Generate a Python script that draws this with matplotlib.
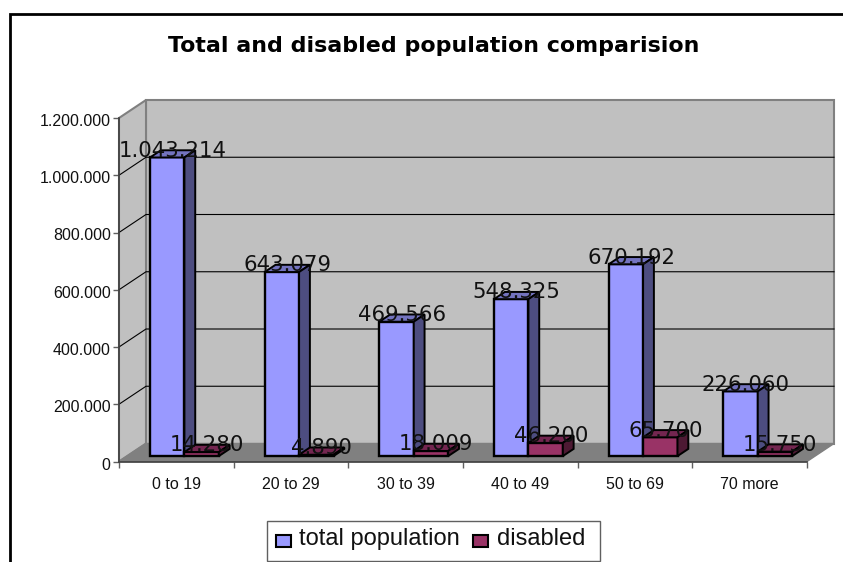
import matplotlib
matplotlib.use('Agg')
import matplotlib.pyplot as plt
from matplotlib.patches import Polygon, Rectangle
from matplotlib.transforms import ScaledTranslation

plt.rcParams['font.family'] = ['Liberation Sans', 'DejaVu Sans']

# population by age group
categories = ['0 to 19', '20 to 29', '30 to 39', '40 to 49', '50 to 69', '70 more']
total_population = [1043214, 643079, 469566, 548325, 670192, 226060]
disabled = [14280, 4890, 18009, 46200, 65700, 15750]
y_ticks = [0, 200000, 400000, 600000, 800000, 1000000, 1200000]

W, H = 843, 562
fig = plt.figure(figsize=(W / 100, H / 100), dpi=100)

# outer frame, runs off the right and bottom of the canvas
bg = fig.add_axes([0, 0, 1, 1])
bg.set_xlim(0, W)
bg.set_ylim(H, 0)
bg.axis('off')
bg.plot([9.7, 9.7, W], [H, 13.5, 13.5], color='black', lw=2.0, solid_capstyle='butt',
        solid_joinstyle='miter')

# axes sit on the front plane of the 3d box
ax = fig.add_axes([119 / W, 1 - 461.5 / H, 688 / W, 343.5 / H])
ax.set_xlim(0, 6)
ax.set_ylim(0, 1200000)
ax.patch.set_visible(False)
for s in ax.spines.values():
    s.set_visible(False)

# depth of the box, in data units
DX = 27 / 688 * 6
DY = 18 / 343.5 * 1200000


def p(x, y, d):
    return (x + d * DX, y + d * DY)


def poly(pts, fc, ec='black', lw=1.0, z=1):
    ax.add_patch(Polygon(pts, closed=True, facecolor=fc, edgecolor=ec, lw=lw,
                         zorder=z, clip_on=False, joinstyle='miter'))


top = y_ticks[-1]
wall = '#c0c0c0'
edge = '#808080'
poly([p(0, 0, 1), p(6, 0, 1), p(6, top, 1), p(0, top, 1)], wall, edge, 1.5)
poly([p(0, 0, 0), p(0, 0, 1), p(0, top, 1), p(0, top, 0)], wall, edge, 1.5)
poly([p(0, 0, 0), p(6, 0, 0), p(6, 0, 1), p(0, 0, 1)], '#808080', '#808080', 1.0)

# gridlines on the side and back walls
for v in y_ticks[1:-1]:
    xs, ys = zip(p(0, v, 0), p(0, v, 1), p(6, v, 1))
    ax.plot(xs, ys, color='black', lw=0.8, zorder=1.5, clip_on=False)

# left and bottom axis lines
ax.plot([0, 0], [0, top], color='#404040', lw=1.2, zorder=2, clip_on=False)
ax.plot([0, 6], [0, 0], color='#404040', lw=1.2, zorder=2, clip_on=False)

BAR_W = 0.3
D0, D1 = 0.3, 0.7
base = D0 * DY


def bar3d(left, value, front, top_col, side, z):
    l, r = left, left + BAR_W
    ax.bar(l + D0 * DX, value, width=BAR_W, bottom=base, align='edge', color=front,
           edgecolor='black', lw=1.7, zorder=z, clip_on=False)
    poly([p(l, value, D0), p(r, value, D0), p(r, value, D1), p(l, value, D1)], top_col, 'black', 1.4, z)
    poly([p(r, 0, D0), p(r, 0, D1), p(r, value, D1), p(r, value, D0)], side, 'black', 1.4, z)


for i, (t, d) in enumerate(zip(total_population, disabled)):
    bar3d(i + 0.2, t, '#9999ff', '#7373bf', '#4d4d80', 3)
    bar3d(i + 0.5, d, '#993366', '#732650', '#4d1933', 4)


def value_label(x, y, v):
    ax.annotate(f'{v:,}'.replace(',', '.'), p(x, y, 0.5), xytext=(0, 2.2), textcoords='offset points',
                ha='center', va='center', fontsize=15.3, family='DejaVu Sans',
                color='#111111', zorder=6, annotation_clip=False)


# value labels sit over the bars
for i, (t, d) in enumerate(zip(total_population, disabled)):
    value_label(i + 0.35, t, t)
    value_label(i + 0.65, d, d)

ax.set_yticks(y_ticks)
ax.set_yticklabels([f'{v:,}'.replace(',', '.') for v in y_ticks], fontsize=11.5, color='#111111')
ax.set_xticks(range(7))
ax.set_xticklabels([])
ax.set_xticks([i + 0.5 for i in range(6)], minor=True)
ax.set_xticklabels(categories, minor=True, fontsize=11.5, color='#111111')
ax.tick_params(axis='both', which='major', length=4.5, width=1.0, color='#606060', pad=1.5)
ax.tick_params(axis='x', which='minor', length=0, pad=11.5)

# y labels hang a little below their ticks
shift = ScaledTranslation(0, -2 / 100, fig.dpi_scale_trans)
for lab in ax.get_yticklabels():
    lab.set_transform(lab.get_transform() + shift)

bg.text(434, 52, 'Total and disabled population comparision', ha='center', va='baseline',
        fontsize=15.9, fontweight='bold', family='DejaVu Sans', color='black')

# legend box
bg.add_patch(Rectangle((267, 521), 333, 39.5, facecolor='white', edgecolor='#606060', lw=1.0))
bg.add_patch(Rectangle((276, 535), 15, 12, facecolor='#9999ff', edgecolor='black', lw=1.5))
bg.text(299, 545, 'total population', va='baseline', fontsize=17, color='#111111')
bg.add_patch(Rectangle((473, 535), 15, 12, facecolor='#993366', edgecolor='black', lw=1.5))
bg.text(497, 545, 'disabled', va='baseline', fontsize=17, color='#111111')

fig.savefig('out.png', dpi=100)
